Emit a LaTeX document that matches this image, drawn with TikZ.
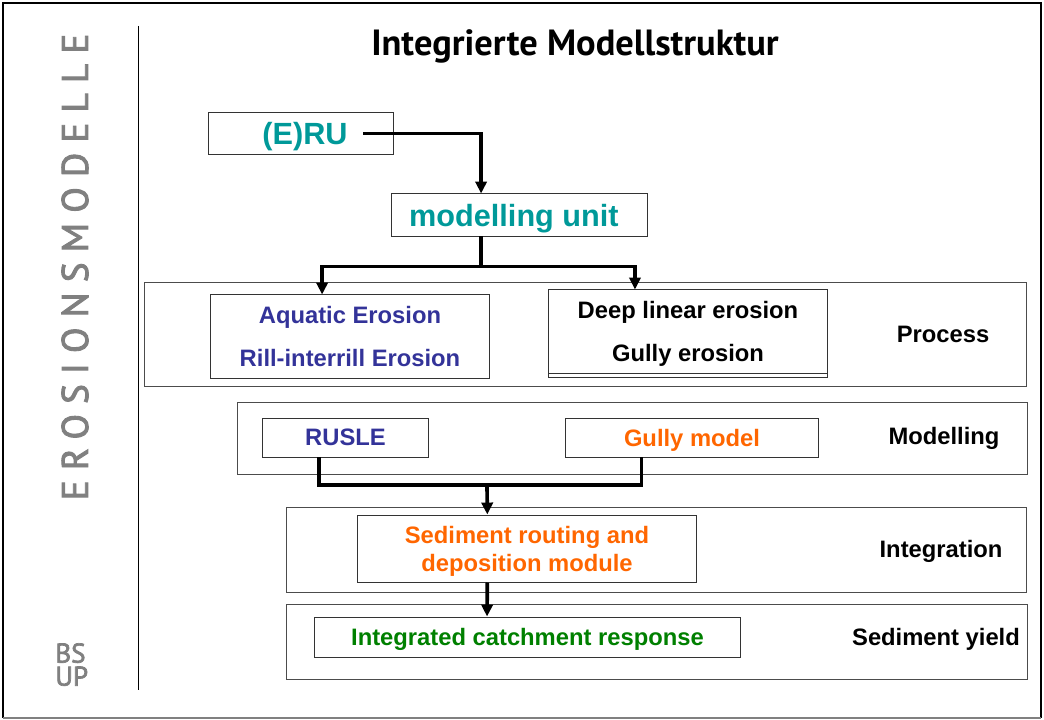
\documentclass[tikz,border=0pt]{standalone}
\usepackage{fontspec}
\setmainfont{Liberation Sans}
\newfontfamily\sidefont{PT Sans}
\usetikzlibrary{arrows.meta,calc}

\definecolor{tealtxt}{RGB}{0,153,153}
\definecolor{bluetxt}{RGB}{51,51,153}
\definecolor{orangetxt}{RGB}{255,102,0}
\definecolor{greentxt}{RGB}{0,128,0}
\definecolor{sidegray}{RGB}{128,128,128}

\tikzset{
  box/.style={draw=black!80, line width=0.7pt, inner sep=0pt, align=center, text depth=0pt,
    font=\bfseries\fontsize{16.9}{30.6}\selectfont},
  band/.style={draw=black!70, line width=0.7pt},
  lab/.style={font=\bfseries\fontsize{16.9}{20}\selectfont},
  bigtxt/.style={font=\bfseries\fontsize{21.8}{26}\selectfont, text=tealtxt},
  sidetxt/.style={text=sidegray, inner sep=0pt, align=left,
    font=\sidefont\fontsize{19.3}{16.4}\selectfont\addfontfeature{FakeBold=2.5}},
  link/.style={line width=2.6pt},
  flow/.style={link, -{Triangle[length=8.5pt,width=8pt]}},
}

\begin{document}
\begin{tikzpicture}[x=0.025cm, y=-0.025cm]
  \useasboundingbox (0,0) rectangle (1044,720);
  % frame and side column
  \draw[line width=1.6pt] (1041,718) -- (1041,3) -- (3,3) -- (3,718);
  \draw[black!50, line width=0.8pt] (3,718) -- (1041,718);
  \draw[line width=0.7pt] (138,26) -- (138,690);
  \node[rotate=90, text=sidegray, font=\sidefont\fontsize{26.4}{30}\selectfont\addfontfeature{LetterSpace=27.5,FakeBold=2.5}] (side) at (75,267) {EROSIONSMODELLE};
  \node[sidetxt, anchor=north west] (bsup) at (55,643) {BS\\UP};
  \node[anchor=base, font=\sidefont\bfseries\fontsize{25.9}{30}\selectfont] (title) at (575,56) {Integrierte Modellstruktur};

  % levels
  \foreach \xa/\ya/\xb/\yb in {144/282/1026/386, 237/402/1027/474, 286/507/1026/592, 286/604/1027/679}
    \draw[band] (\xa,\ya) rectangle (\xb,\yb);
  \node[lab] (proc) at (943,334) {Process};
  \node[lab] (modl) at (944,438) {Modelling};
  \node[lab] (intg) at (941,551) {Integration};
  \node[lab] (yield) at (936,639) {Sediment yield};

  % boxes
  \node[box, bigtxt, minimum width=4.6cm, minimum height=1.025cm] (eru) at (301,133.5) {\hspace*{0.2cm}(E)RU};
  \node[box, bigtxt, minimum width=6.375cm, minimum height=1.05cm] (unit) at (519.5,215) {modelling unit\hspace*{0.28cm}};
  \node[box, text=bluetxt, minimum width=6.95cm, minimum height=2.075cm] (aquatic) at (350,336.5) {Aquatic Erosion\\Rill-interrill Erosion};
  \node[box, minimum width=6.95cm, minimum height=2.075cm] (deep) at (688,331.5) {Deep linear erosion\\Gully erosion};
  \draw[black!80, line width=0.7pt] (deep.south west) -- ++(0,4) -| (deep.south east);
  \node[box, text=bluetxt, minimum width=4.125cm, minimum height=0.975cm] (rusle) at (345.5,437.5) {RUSLE};
  \node[box, text=orangetxt, minimum width=6.3cm, minimum height=0.975cm] (gully) at (692,437.5) {Gully model};
  \node[box, text=orangetxt, minimum width=8.45cm, minimum height=1.675cm,
    font=\bfseries\fontsize{16.9}{19.9}\selectfont] (routing) at (527,548.5) {Sediment routing and\\deposition module};
  \node[box, text=greentxt, minimum width=10.625cm, minimum height=1cm] (catch) at (527.5,637) {Integrated catchment response};

  % connectors
  \coordinate (erutail) at ($(eru.center)+(62,0)$);
  \draw[flow] (erutail) -| ($(unit.north west)!.35!(unit.north east)$);
  \draw[link] ($(unit.south west)!.35!(unit.south east)$) -- ++(0,30) coordinate (fork);
  \draw[flow] (fork) -| ($(aquatic.north west)!.4!(aquatic.north east)$);
  \draw[flow] (fork) -| ($(deep.north west)!.31!(deep.north east)$);
  \coordinate (merge) at (487,485);
  \draw[link] ($(rusle.south west)!.34!(rusle.south east)$) |- (merge) -| ($(gully.south west)!.3!(gully.south east)$);
  \draw[flow] (merge) -- ($(routing.north west)!.383!(routing.north east)$);
  \draw[flow] ($(routing.south west)!.383!(routing.south east)$) -- ($(catch.north west)!.405!(catch.north east)$);
\end{tikzpicture}
\end{document}
